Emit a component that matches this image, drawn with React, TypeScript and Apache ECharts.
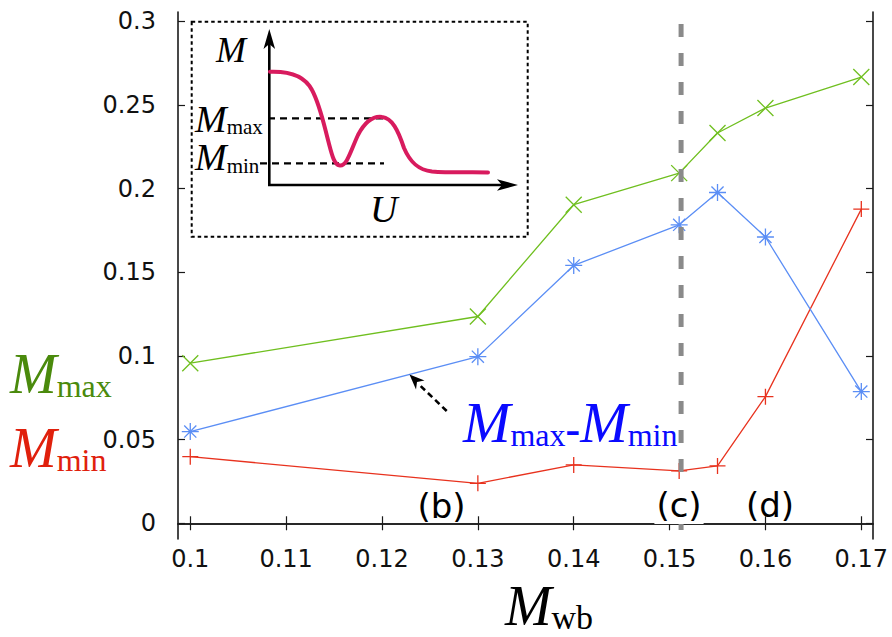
import React, { useEffect, useRef } from "react";
import * as echarts from "echarts";

// Wall-bound mass Mwb at which each run was made
const mwb = [0.1, 0.13, 0.14, 0.151, 0.155, 0.16, 0.17];
// Local maximum of M(U)
const mMax = [0.0957, 0.1236, 0.1904, 0.2093, 0.2333, 0.2482, 0.2667];
// Local minimum of M(U)
const mMin = [0.0398, 0.0239, 0.0349, 0.0313, 0.0343, 0.0757, 0.1878];
// Depth of the dip, Mmax - Mmin
const mDiff = [0.0548, 0.0996, 0.1541, 0.1784, 0.1977, 0.1711, 0.0787];

// Critical Mwb marked by the dashed vertical line
const criticalMwb = 0.1512;
const criticalSpan = [0.2985, -0.0058];

const xTicks = [0.1, 0.11, 0.12, 0.13, 0.14, 0.15, 0.16, 0.17];
const yTicks = [0, 0.05, 0.1, 0.15, 0.2, 0.25, 0.3];
const xRange = [0.09872, 0.17122];
const yRange = [-0.0094, 0.3056];

const GREEN = "#6fbf1f";
const BLUE = "#5b8ef5";
const RED = "#e8321e";
const GREEN_TEXT = "#4a8a0c";
const RED_TEXT = "#e0200c";
const BLUE_TEXT = "#0a0aff";
const SERIF = "'Liberation Serif', 'Times New Roman', serif";
const SANS = "'DejaVu Sans', 'Liberation Sans', sans-serif";

const CROSS = "path://M0,0L16,16M16,0L0,16";
const PLUS = "path://M8,0L8,16M0,8L16,8";
const ASTERISK = "path://M8,0L8,16M0,8L16,8M2.3,2.3L13.7,13.7M13.7,2.3L2.3,13.7";

// Schematic M(U) curve of the inset
const insetCurve =
  "M270,71.7 C290,71 305,76 312,90 C320,105 324,125 328,140 C332,155 334,165 340,165.5 " +
  "C347,166 351,150 358,135 C366,120 374,116 382,117 C392,118 398,130 404,148 " +
  "C410,162 418,170 432,171.5 C450,173 470,172 488,172.5";
echarts.graphic.registerShape("insetCurve", echarts.graphic.extendPath(insetCurve, {}));

type Tok = { t: string; size: number; italic?: boolean; bold?: boolean };

// Serif math-style text with subscripts sharing one baseline
function mathText(x: number, baseline: number, toks: Tok[], color: string, align = "left") {
  const big = Math.max(...toks.map((k) => k.size));
  const rich: Record<string, any> = {};
  let text = "";
  toks.forEach((k, i) => {
    const key = "t" + i;
    rich[key] = {
      fontFamily: SERIF,
      fontSize: k.size,
      fontStyle: k.italic ? "italic" : "normal",
      fontWeight: k.bold ? "bold" : "normal",
      fill: color,
      verticalAlign: "bottom",
      lineHeight: 0.675 * k.size + 0.325 * big,
    };
    text += `{${key}|${k.t}}`;
  });
  return {
    type: "text",
    x,
    y: baseline + 0.1625 * big,
    z: 100,
    style: { text, rich, align, verticalAlign: "bottom" },
  };
}

function caseLabel(text: string, cx: number, cy: number, bg?: string) {
  return {
    type: "text",
    x: cx,
    y: cy,
    z: 100,
    style: {
      text,
      fontFamily: SANS,
      fontSize: 34,
      fill: "#000",
      align: "center",
      verticalAlign: "middle",
      backgroundColor: bg,
      padding: bg ? [2, 2, 2, 2] : 0,
    },
  };
}

const fmt = (v: number) => String(+v.toFixed(3));

export default function App() {
  const ref = useRef<HTMLDivElement>(null);

  useEffect(() => {
    document.body.style.margin = "0";
    if (!ref.current) return;
    const chart = echarts.init(ref.current, null, { renderer: "svg" });
    const pairs = (ys: number[]) => mwb.map((x, i) => [x, ys[i]]);

    const frameLine = { show: true, lineStyle: { color: "#1a1a1a", width: 1.6 } };
    const innerTicks = (vals: number[]) => ({
      show: true,
      inside: true,
      length: 7,
      customValues: vals,
      lineStyle: { color: "#1a1a1a", width: 1.2 },
    });

    const option: any = {
      animation: false,
      grid: { left: 178, right: 19, top: 12, bottom: 98 },
      xAxis: [
        {
          type: "value",
          min: xRange[0],
          max: xRange[1],
          axisLine: frameLine,
          axisTick: innerTicks(xTicks),
          splitLine: { show: false },
          axisLabel: {
            customValues: xTicks,
            formatter: fmt,
            margin: 8,
            fontFamily: SANS,
            fontSize: 24,
            color: "#111",
          },
        },
        {
          type: "value",
          position: "top",
          min: xRange[0],
          max: xRange[1],
          axisLine: frameLine,
          axisTick: innerTicks(xTicks),
          axisLabel: { show: false },
          splitLine: { show: false },
        },
      ],
      yAxis: [
        {
          type: "value",
          min: yRange[0],
          max: yRange[1],
          axisLine: frameLine,
          axisTick: innerTicks(yTicks),
          splitLine: { show: false },
          axisLabel: {
            customValues: yTicks,
            formatter: fmt,
            margin: 22,
            fontFamily: SANS,
            fontSize: 24,
            color: "#111",
          },
        },
        {
          type: "value",
          position: "right",
          min: yRange[0],
          max: yRange[1],
          axisLine: frameLine,
          axisTick: innerTicks(yTicks),
          axisLabel: { show: false },
          splitLine: { show: false },
        },
      ],
      series: [
        {
          name: "Mmin",
          type: "line",
          data: pairs(mMin),
          symbol: PLUS,
          symbolSize: 16,
          lineStyle: { color: RED, width: 1.3 },
          itemStyle: { color: RED, borderColor: RED, borderWidth: 1.3 },
          z: 3,
        },
        {
          name: "Mmax-Mmin",
          type: "line",
          data: pairs(mDiff),
          symbol: ASTERISK,
          symbolSize: 17,
          lineStyle: { color: BLUE, width: 1.3 },
          itemStyle: { color: BLUE, borderColor: BLUE, borderWidth: 1.3 },
          z: 3,
        },
        {
          name: "Mmax",
          type: "line",
          data: pairs(mMax),
          symbol: CROSS,
          symbolSize: 16,
          lineStyle: { color: GREEN, width: 1.3 },
          itemStyle: { color: GREEN, borderColor: GREEN, borderWidth: 1.3 },
          z: 3,
        },
        {
          name: "critical",
          type: "line",
          data: criticalSpan.map((y) => [criticalMwb, y]),
          symbol: "none",
          lineStyle: { color: "#8a8a8a", width: 5, type: [13, 16] },
          z: 5,
        },
      ],
      graphic: [
        // inset frame
        {
          type: "rect",
          z: 90,
          shape: { x: 191.7, y: 21.7, width: 336, height: 215 },
          style: { fill: "none", stroke: "#000", lineWidth: 2, lineDash: [3.5, 3] },
        },
        // inset axes with arrowheads
        {
          type: "line",
          z: 90,
          shape: { x1: 269.3, y1: 186, x2: 269.3, y2: 42 },
          style: { stroke: "#000", lineWidth: 2.6 },
        },
        {
          type: "polygon",
          z: 90,
          shape: { points: [[269.3, 29], [263.5, 49], [269.3, 44], [275.1, 49]] },
          style: { fill: "#000" },
        },
        {
          type: "line",
          z: 90,
          shape: { x1: 268, y1: 185, x2: 505, y2: 185 },
          style: { stroke: "#000", lineWidth: 2.6 },
        },
        {
          type: "polygon",
          z: 90,
          shape: { points: [[518, 185], [497, 179.2], [502, 185], [497, 190.8]] },
          style: { fill: "#000" },
        },
        // Mmax / Mmin levels
        {
          type: "line",
          z: 90,
          shape: { x1: 268, y1: 118.3, x2: 384, y2: 118.3 },
          style: { stroke: "#000", lineWidth: 2.2, lineDash: [7, 5] },
        },
        {
          type: "line",
          z: 90,
          shape: { x1: 260, y1: 163.3, x2: 384, y2: 163.3 },
          style: { stroke: "#000", lineWidth: 2.2, lineDash: [7, 5] },
        },
        {
          type: "insetCurve",
          z: 91,
          x: 0,
          y: 0,
          style: { fill: "none", stroke: "#d81b5e", lineWidth: 4, lineCap: "round" },
        },
        mathText(216, 61.7, [{ t: "M", size: 36, italic: true }], "#000"),
        mathText(195, 131.7, [{ t: "M", size: 38, italic: true }, { t: "max", size: 21 }], "#000"),
        mathText(195, 170, [{ t: "M", size: 38, italic: true }, { t: "min", size: 21 }], "#000"),
        mathText(370, 221.7, [{ t: "U", size: 38, italic: true }], "#000"),
        // series names on the left
        mathText(10, 393, [{ t: "M", size: 56, italic: true }, { t: "max", size: 32 }], GREEN_TEXT),
        mathText(10, 467, [{ t: "M", size: 56, italic: true }, { t: "min", size: 32 }], RED_TEXT),
        // Mmax - Mmin label with dashed pointer
        mathText(
          463,
          442,
          [
            { t: "M", size: 57, italic: true },
            { t: "max", size: 32 },
            { t: "-", size: 44, bold: true },
            { t: "M", size: 57, italic: true },
            { t: "min", size: 32 },
          ],
          BLUE_TEXT
        ),
        {
          type: "line",
          z: 90,
          shape: { x1: 446.7, y1: 411, x2: 418, y2: 383.5 },
          style: { stroke: "#000", lineWidth: 2.6, lineDash: [6, 4] },
        },
        {
          type: "polygon",
          z: 90,
          shape: { points: [[409.5, 374.5], [424.5, 380.5], [417, 382], [416, 389.5]] },
          style: { fill: "#000" },
        },
        // x-axis title
        mathText(549, 625, [{ t: "M", size: 56, italic: true }, { t: "wb", size: 34 }], "#000", "center"),
        // case markers
        caseLabel("(b)", 441.5, 506),
        caseLabel("(c)", 679, 505, "#fff"),
        caseLabel("(d)", 770, 505),
      ],
    };

    chart.setOption(option);
    return () => chart.dispose();
  }, []);

  return (
    <div
      ref={ref}
      style={{ position: "absolute", left: 0, top: 0, width: 892, height: 637 }}
    />
  );
}
